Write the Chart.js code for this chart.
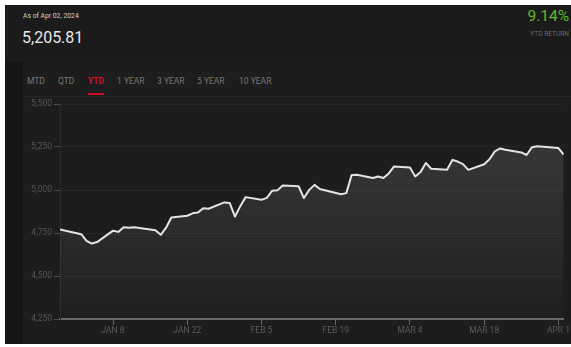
<!DOCTYPE html>
<html>
<head>
<meta charset="utf-8">
<script src="https://cdn.jsdelivr.net/npm/chart.js@4/dist/chart.umd.min.js"></script>
<style>
  html, body { margin: 0; padding: 0; background: #ffffff; }
  body { width: 571px; height: 347px; position: relative; overflow: hidden; font-family: Roboto, "Liberation Sans", sans-serif; }
  #card { position: absolute; left: 5px; top: 5px; width: 566px; height: 339px; background: #1b1b1b; }
  #strip { position: absolute; left: 5px; top: 62px; width: 18px; height: 282px; background: #151515; }
  #panel { position: absolute; left: 23px; top: 62px; width: 548px; height: 282px; background: #1d1d1d; }
  .t { position: absolute; white-space: nowrap; line-height: 1; }
  #asof { left: 23px; top: 13px; font-size: 6.8px; color: #d2d2d2; }
  #price { left: 22px; top: 30px; font-size: 16px; color: #e8e8e8; }
  #ret { right: 2px; top: 9px; font-size: 15.5px; color: #62b82a; }
  #retlbl { right: 2px; top: 31px; font-size: 6.6px; color: #6a6a6a; }
  .tab { top: 77px; font-size: 8.5px; color: #777777; }
  .tab.on { color: #d3122e; font-weight: bold; }
  #uline { position: absolute; left: 88px; top: 93px; width: 16px; height: 2px; background: #c8102e; }
  #sep { position: absolute; left: 23px; top: 96px; width: 548px; height: 1px; background: #262626; }
  #chartwrap { position: absolute; left: 23px; top: 96px; width: 548px; height: 248px; }
</style>
</head>
<body>
<div id="card"></div>
<div id="strip"></div>
<div id="panel"></div>
<div class="t" id="asof">As of Apr 02, 2024</div>
<div class="t" id="price">5,205.81</div>
<div class="t" id="ret">9.14%</div>
<div class="t" id="retlbl">YTD RETURN</div>
<div class="t tab" style="left:27px">MTD</div>
<div class="t tab" style="left:58px">QTD</div>
<div class="t tab on" style="left:88px">YTD</div>
<div class="t tab" style="left:117px">1 YEAR</div>
<div class="t tab" style="left:157px">3 YEAR</div>
<div class="t tab" style="left:197px">5 YEAR</div>
<div class="t tab" style="left:239px">10 YEAR</div>
<div id="uline"></div>
<div id="sep"></div>
<div id="chartwrap"><canvas id="c" width="548" height="248"></canvas></div>
<script>
// Daily closes, year to date
const dates = [
  '2023-12-29','2024-01-02','2024-01-03','2024-01-04','2024-01-05','2024-01-08','2024-01-09','2024-01-10',
  '2024-01-11','2024-01-12','2024-01-16','2024-01-17','2024-01-18','2024-01-19','2024-01-22','2024-01-23',
  '2024-01-24','2024-01-25','2024-01-26','2024-01-29','2024-01-30','2024-01-31','2024-02-01','2024-02-02',
  '2024-02-05','2024-02-06','2024-02-07','2024-02-08','2024-02-09','2024-02-12','2024-02-13','2024-02-14',
  '2024-02-15','2024-02-16','2024-02-20','2024-02-21','2024-02-22','2024-02-23','2024-02-26','2024-02-27',
  '2024-02-28','2024-02-29','2024-03-01','2024-03-04','2024-03-05','2024-03-06','2024-03-07','2024-03-08',
  '2024-03-11','2024-03-12','2024-03-13','2024-03-14','2024-03-15','2024-03-18','2024-03-19','2024-03-20',
  '2024-03-21','2024-03-22','2024-03-25','2024-03-26','2024-03-27','2024-03-28','2024-04-01','2024-04-02'
];
const closes = [
  4769.83,4742.83,4704.81,4688.68,4697.24,4763.54,4756.50,4783.45,
  4780.24,4783.83,4765.98,4739.21,4780.94,4839.81,4850.43,4864.60,
  4868.55,4894.16,4890.97,4927.93,4924.97,4845.65,4906.19,4958.61,
  4942.81,4954.23,4995.06,4997.91,5026.61,5021.84,4953.17,5000.62,
  5029.73,5005.57,4975.51,4981.80,5087.03,5088.80,5069.53,5078.18,
  5069.76,5096.27,5137.08,5130.95,5078.65,5104.76,5157.36,5123.69,
  5117.94,5175.27,5165.31,5150.48,5117.09,5149.42,5178.51,5224.62,
  5241.53,5234.18,5218.19,5203.58,5248.49,5254.35,5243.77,5205.81
];
const xTickDates = ['2024-01-08','2024-01-22','2024-02-05','2024-02-19','2024-03-04','2024-03-18','2024-04-01'];
const xTickLabels = ['JAN 8','JAN 22','FEB 5','FEB 19','MAR 4','MAR 18','APR 1'];
const yTicks = [4250, 4500, 4750, 5000, 5250, 5500];

const DAY = 86400000;
const t0 = Date.parse(dates[0] + 'T00:00:00Z');
const dayOf = d => Math.round((Date.parse(d + 'T00:00:00Z') - t0) / DAY);
const points = dates.map((d, i) => ({ x: dayOf(d), y: closes[i] }));
const tickDays = xTickDates.map(dayOf);

new Chart(document.getElementById('c'), {
  type: 'line',
  data: {
    datasets: [{
      data: points,
      borderColor: '#e4e4e4',
      borderWidth: 2,
      borderJoinStyle: 'round',
      pointRadius: 0,
      tension: 0,
      fill: 'start',
      backgroundColor: (ctx) => {
        const area = ctx.chart.chartArea;
        if (!area) return 'rgba(255,255,255,0.06)';
        const g = ctx.chart.ctx.createLinearGradient(0, area.top, 0, area.bottom);
        g.addColorStop(0, 'rgba(255,255,255,0.14)');
        g.addColorStop(1, 'rgba(255,255,255,0.01)');
        return g;
      }
    }]
  },
  options: {
    responsive: false,
    animation: false,
    devicePixelRatio: 1,
    layout: { padding: { top: 8, right: 5, left: 0, bottom: 0 } },
    plugins: { legend: { display: false }, tooltip: { enabled: false } },
    scales: {
      x: {
        type: 'linear',
        min: 0,
        max: dayOf(dates[dates.length - 1]),
        afterBuildTicks: (scale) => { scale.ticks = tickDays.map(v => ({ value: v })); },
        afterFit: (scale) => { scale.height = 25; },
        ticks: {
          autoSkip: false,
          maxRotation: 0,
          padding: 1,
          color: '#5a5a5a',
          font: { family: 'Roboto', size: 8.5 },
          callback: (v) => xTickLabels[tickDays.indexOf(v)] || ''
        },
        grid: { drawOnChartArea: false, drawTicks: true, tickLength: 6, color: '#666666', lineWidth: 1 },
        border: { display: true, color: '#666666', width: 2 }
      },
      y: {
        min: 4250,
        max: 5500,
        afterBuildTicks: (scale) => { scale.ticks = yTicks.map(v => ({ value: v })); },
        afterFit: (scale) => { scale.width = 37; },
        ticks: {
          padding: 2,
          color: '#555555',
          font: { family: 'Roboto', size: 8.5 },
          callback: (v) => v.toLocaleString('en-US')
        },
        grid: { color: '#262626', tickColor: '#4a4a4a', tickLength: 6, lineWidth: 1 },
        border: { display: true, color: '#2a2a2a', width: 1 }
      }
    }
  }
});
</script>
</body>
</html>
